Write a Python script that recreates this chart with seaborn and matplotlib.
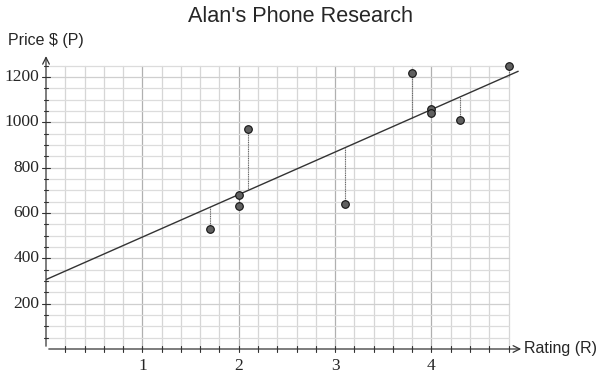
import numpy as np
import pandas as pd
import matplotlib
matplotlib.use("Agg")
import matplotlib.pyplot as plt
import seaborn as sns

# data
rating = [1.7, 2.0, 2.0, 2.1, 3.1, 3.8, 4.0, 4.0, 4.3, 4.8]
price = [530, 680, 630, 970, 640, 1220, 1060, 1040, 1010, 1250]
x_ticks = [1, 2, 3, 4]
y_ticks = [200, 400, 600, 800, 1000, 1200]

sns.set_style("white")
plt.rcParams['font.family'] = ['Liberation Sans', 'DejaVu Sans']

df = pd.DataFrame({"R": rating, "P": price})
slope, intercept = np.polyfit(df["R"], df["P"], 1)
fit_x = np.array([0.0, 4.9])
fit_df = pd.DataFrame({"R": fit_x, "P": intercept + slope * fit_x})
df["fit"] = intercept + slope * df["R"]

fig = plt.figure(figsize=(6.02, 3.77), dpi=100)
ax = fig.add_axes([46 / 602, 28 / 377, 477 / 602, 295 / 377])
ax.set_xlim(0, 4.95)
ax.set_ylim(0, 1302)
for s in ax.spines.values():
    s.set_visible(False)
ax.set_xticks([])
ax.set_yticks([])

# grid
gx = np.round(np.arange(0.2, 4.81, 0.2), 2)
gy = np.arange(50, 1251, 50)
for v in gx:
    c = "#b0b0b0" if abs(v - round(v)) < 1e-6 else "#d6d6d6"
    ax.plot([v, v], [0, 1250], color=c, lw=0.9, zorder=1)
for v in gy:
    c = "#cfcfcf" if v % 200 == 0 else "#dcdcdc"
    ax.plot([0, 4.8], [v, v], color=c, lw=0.9, zorder=1)

# axes with arrows
ax.annotate("", xy=(4.96, 0), xytext=(0, 0),
            arrowprops=dict(arrowstyle="->", color="#333", lw=0.9, mutation_scale=12),
            annotation_clip=False, zorder=3)
ax.annotate("", xy=(0, 1305), xytext=(0, 0),
            arrowprops=dict(arrowstyle="->", color="#333", lw=0.9, mutation_scale=12),
            annotation_clip=False, zorder=3)

# ticks
for v in gx:
    ax.plot([v, v], [-14, 14], color="#333", lw=0.8, clip_on=False, zorder=3)
for v in gy:
    d = 0.045 if v % 200 == 0 else 0.025
    ax.plot([-d, d], [v, v], color="#333", lw=0.8, clip_on=False, zorder=3)
for t in x_ticks:
    ax.text(t, -40, str(t), ha="center", va="top", fontsize=12.5,
            family=["Liberation Serif", "DejaVu Serif"])
for t in y_ticks:
    ax.text(-0.07, t, str(t), ha="right", va="center", fontsize=12.5,
            family=["Liberation Serif", "DejaVu Serif"])

# residuals
ax.vlines(df["R"], df["P"], df["fit"], colors="#666", lw=0.8,
          linestyles=(0, (1, 0.6)), zorder=4)
# fit line
sns.lineplot(data=fit_df, x="R", y="P", ax=ax, color="#333", lw=1.0, zorder=5)
# points
sns.scatterplot(data=df, x="R", y="P", ax=ax, color="#606060", edgecolor="#111",
                linewidth=0.8, s=30, zorder=6)
ax.set_xlabel("")
ax.set_ylabel("")

fig.text(300 / 602, 1 - 16 / 377, "Alan's Phone Research", ha="center", va="center", fontsize=15.6)
fig.text(8 / 602, 1 - 41 / 377, "Price $ (P)", ha="left", va="center", fontsize=11.5)
fig.text(524 / 602, 1 - 349 / 377, "Rating (R)", ha="left", va="center", fontsize=11.5)

fig.savefig("out.png", dpi=100)
